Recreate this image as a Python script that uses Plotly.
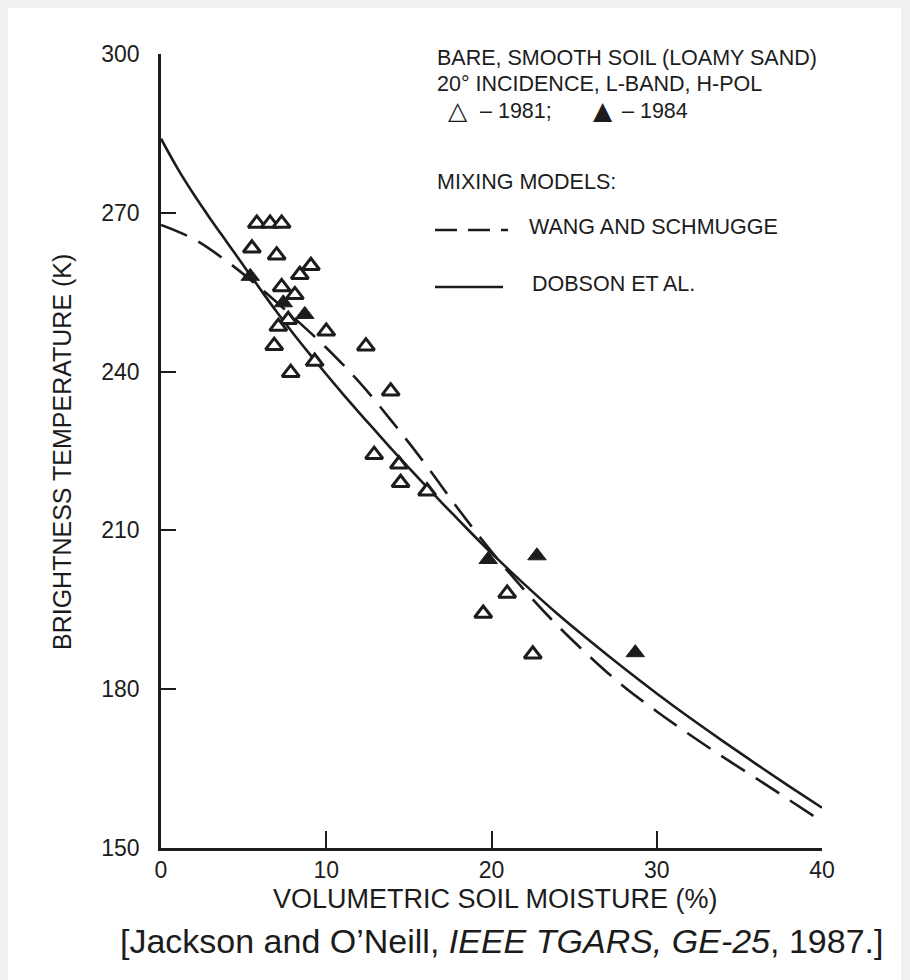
import plotly.graph_objects as go

# ---- data ----
open_x = [5.8, 6.6, 7.3, 5.5, 7.0, 9.07, 8.4, 7.3, 8.1, 7.7, 7.1, 10.0, 6.85, 12.4, 9.3, 7.85,
          13.9, 12.9, 14.4, 14.5, 16.1, 20.95, 19.5, 22.5]
open_y = [268, 268, 268, 263.3, 262, 260, 258.3, 256, 254.5, 249.8, 248.5, 247.6, 244.9, 244.8,
          241.9, 239.8, 236.3, 224.3, 222.5, 219.0, 217.4, 198.1, 194.3, 186.6]

filled_x = [5.4, 7.4, 8.7, 19.8, 22.75, 28.7]
filled_y = [258, 253, 250.8, 204.5, 205.2, 186.9]

dobson_x = [0, 1, 2, 3, 4, 5, 6, 7, 8, 9, 10, 11, 12, 13, 14, 15, 16, 17, 18, 19, 20,
            22, 24, 26, 28, 30, 32, 34, 36, 38, 40]
dobson_y = [284, 278.4, 273.4, 268.8, 264.4, 260, 255.6, 251.3, 247.2, 243.3, 239.5, 235.8,
            232.2, 228.7, 225.2, 221.8, 218.5, 215.2, 212, 208.8, 205.7,
            199.8, 194.2, 189, 184, 179.2, 174.6, 170.2, 165.9, 161.7, 157.6]

wang_x = [0, 2, 4, 6, 8, 10, 12, 14, 16, 18, 20, 22, 24, 26, 28, 30, 32, 34, 36, 38, 40]
wang_y = [267.7, 265, 260.8, 255.8, 250.3, 244.5, 238, 230.5, 222.5, 214, 206, 198.7, 192,
          186, 180.5, 175.8, 171.4, 167.2, 163.2, 159.1, 155]

x_ticks = [0, 10, 20, 30, 40]
y_ticks = [150, 180, 210, 240, 270, 300]

FONT = "Liberation Sans, Arial, Helvetica, sans-serif"
SYM = "DejaVu Sans, sans-serif"
INK = "#1c1c1c"

fig = go.Figure()
fig.add_trace(go.Scatter(x=wang_x, y=wang_y, mode="lines", line_shape="spline",
                         line=dict(color=INK, width=2.6, dash="28px,13px"),
                         showlegend=False, hoverinfo="skip"))
fig.add_trace(go.Scatter(x=dobson_x, y=dobson_y, mode="lines", line_shape="spline",
                         line=dict(color=INK, width=2.6),
                         showlegend=False, hoverinfo="skip"))
fig.add_trace(go.Scatter(x=open_x, y=open_y, mode="markers",
                         marker=dict(symbol="triangle-up", size=15, color="white",
                                     line=dict(color=INK, width=3)),
                         showlegend=False, cliponaxis=False))
fig.add_trace(go.Scatter(x=filled_x, y=filled_y, mode="markers",
                         marker=dict(symbol="triangle-up", size=16, color=INK,
                                     line=dict(color=INK, width=1)),
                         showlegend=False, cliponaxis=False))

L, R, T, B = 161, 88, 54, 132
W, H = 910, 980
pw, ph = W - L - R, H - T - B


def px(xp):
    return (xp - L) / pw


def py(yp):
    return (H - B - yp) / ph


ann = []
def text(s, x, y, size=21.5, xanchor="left", yanchor="middle", angle=0, family=FONT):
    ann.append(dict(text=s, x=x, y=y, xref="paper", yref="paper", showarrow=False,
                    xanchor=xanchor, yanchor=yanchor, textangle=angle,
                    font=dict(family=family, size=size, color=INK)))

text("BARE, SMOOTH SOIL (LOAMY SAND)", px(435), py(58))
text("20° INCIDENCE, L-BAND, H-POL", px(435), py(84))
text("△", px(458), py(110), size=25, xanchor="center", family=SYM)
text("– 1981;", px(478), py(111))
text("▲", px(603), py(110), size=25, xanchor="center", family=SYM)
text("– 1984", px(620), py(111))
text("MIXING MODELS:", px(435), py(182))
text("WANG AND SCHMUGGE", px(527), py(227))
text("DOBSON ET AL.", px(530), py(284))
text("VOLUMETRIC SOIL MOISTURE (%)", px(495), py(899), size=27, xanchor="center")
text("BRIGHTNESS TEMPERATURE (K)", px(62), py(452), size=25, xanchor="center", angle=-90)
text("[Jackson and O’Neill, <i>IEEE TGARS, GE-25</i>, 1987.]", px(501), py(941), size=34,
     xanchor="center")

shapes = [
    dict(type="rect", xref="paper", yref="paper", x0=px(8), x1=px(901), y0=py(980), y1=py(8),
         fillcolor="white", line=dict(width=0), layer="below"),
    dict(type="line", xref="paper", yref="paper", x0=px(435), x1=px(508), y0=py(230), y1=py(230),
         line=dict(color=INK, width=2.6, dash="22px,11px")),
    dict(type="line", xref="paper", yref="paper", x0=px(435), x1=px(503), y0=py(287), y1=py(287),
         line=dict(color=INK, width=2.6)),
]

fig.update_layout(
    width=W, height=H,
    margin=dict(l=L, r=R, t=T, b=B, pad=0),
    paper_bgcolor="#f0f0f0", plot_bgcolor="white",
    annotations=ann, shapes=shapes, showlegend=False,
    xaxis=dict(range=[0, 40], tickvals=x_ticks, ticktext=[str(v) for v in x_ticks],
               ticks="inside", ticklen=17, tickwidth=2, tickcolor=INK,
               showline=True, linewidth=2.6, linecolor=INK, showgrid=False, zeroline=False,
               tickfont=dict(family=FONT, size=23, color=INK), ticklabelstandoff=0),
    yaxis=dict(range=[150, 300], tickvals=y_ticks, ticktext=[str(v) for v in y_ticks],
               ticks="inside", ticklen=15, tickwidth=2, tickcolor=INK,
               showline=True, linewidth=2.6, linecolor=INK, showgrid=False, zeroline=False,
               tickfont=dict(family=FONT, size=23, color=INK), ticklabelstandoff=14),
)

fig.write_html("out.html")
